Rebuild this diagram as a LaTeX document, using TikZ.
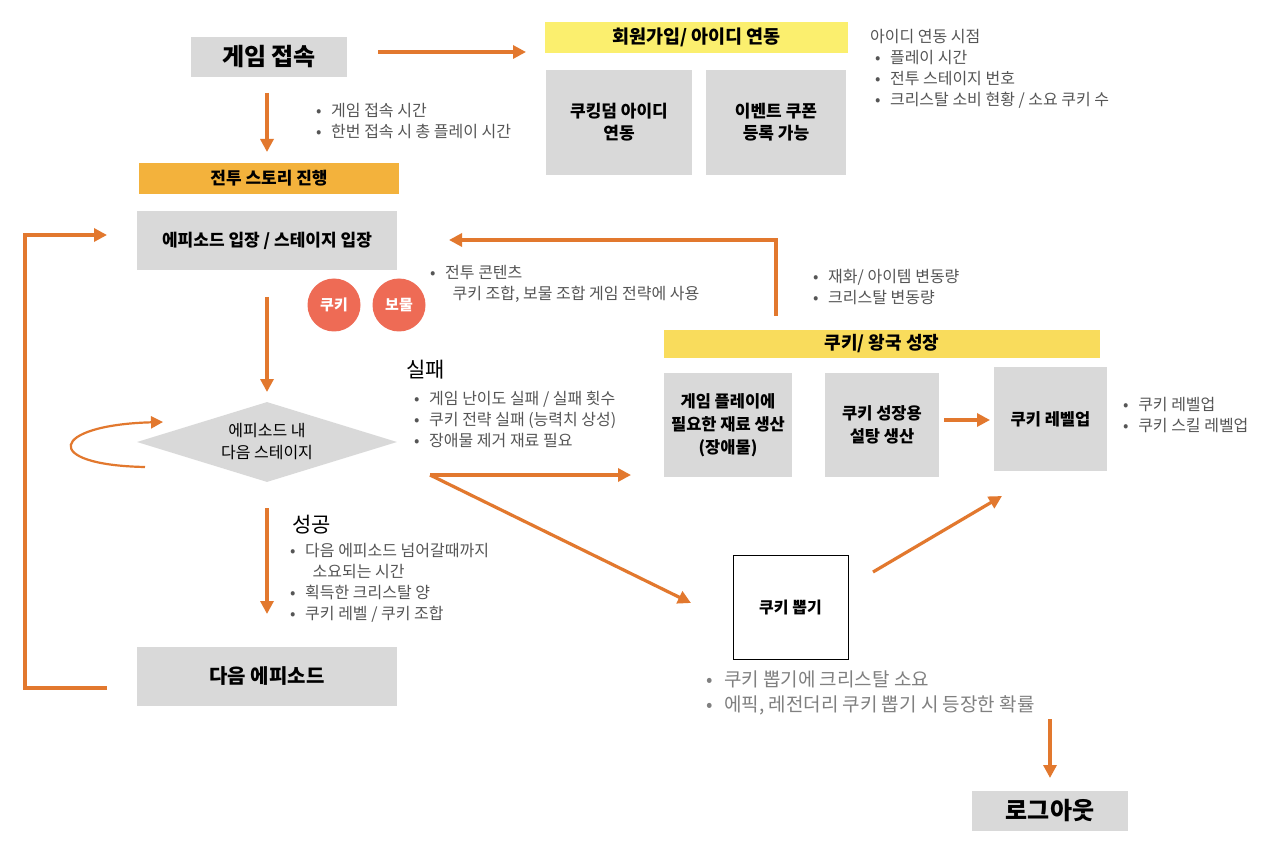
\documentclass[tikz,border=0pt]{standalone}
\usepackage{fontspec}
\setmainfont{Noto Sans CJK KR}
\usetikzlibrary{arrows.meta,shapes.geometric}
\definecolor{gbox}{HTML}{D9D9D9}
\definecolor{org}{HTML}{E2782E}
\definecolor{ylw}{HTML}{FBEF6E}
\definecolor{ylw2}{HTML}{F9DC5C}
\definecolor{obox}{HTML}{F3B23C}
\definecolor{redc}{HTML}{EE6B55}
\definecolor{txt}{HTML}{555555}
\tikzset{
 gb/.style={fill=gbox,align=center,inner sep=0pt,font=\fontsize{17}{22}\selectfont\bfseries},
 arr/.style={draw=org,line width=3.2pt,-{Triangle[length=13pt,width=13pt]}},
 ln/.style={draw=org,line width=3.2pt},
 bl/.style={anchor=north west,align=left,text=txt,inner sep=0pt,font=\fontsize{16}{21}\selectfont},
}
\newcommand{\bu}{\textbullet\hspace{0.6em}}
\begin{document}
\begin{tikzpicture}[x=1pt,y=-1pt]
\fill[white] (0,0) rectangle (1280,842);
% top
\node[gb,minimum width=156,minimum height=40,font=\fontsize{24}{28}\selectfont\bfseries] (start) at (269,57) {게임 접속};
\node[fill=ylw,minimum width=303,minimum height=31,inner sep=0pt,font=\fontsize{18.5}{22}\selectfont\bfseries] (join) at (696.5,37.5) {회원가입/ 아이디 연동};
\node[gb,minimum width=146,minimum height=105] (kid) at (619,122.5) {쿠킹덤 아이디\\연동};
\node[gb,minimum width=140,minimum height=105] (cpn) at (776,122.5) {이벤트 쿠폰\\등록 가능};
\coordinate (a1) at (378,52); \coordinate (a2) at (526,52);
\draw[arr] (a1) -- (a2);
\node[bl] (idt) at (870,29) {아이디 연동 시점\\[0pt]\hspace{0.3em}\bu 플레이 시간\\\hspace{0.3em}\bu 전투 스테이지 번호\\\hspace{0.3em}\bu 크리스탈 소비 현황 / 소요 쿠키 수};
\coordinate (b1) at (267,93); \coordinate (b2) at (267,152);
\draw[arr] (b1) -- (b2);
\node[bl] (t1) at (316,103) {\bu 게임 접속 시간\\\bu 한번 접속 시 총 플레이 시간};
% battle
\node[fill=obox,minimum width=260,minimum height=31,inner sep=0pt,font=\fontsize{17}{20}\selectfont\bfseries] (battle) at (269,178.5) {전투 스토리 진행};
\node[gb,minimum width=260,minimum height=59] (ep) at (267,240.5) {에피소드 입장 / 스테이지 입장};
\node[circle,fill=redc,minimum size=53,inner sep=0pt,text=white,font=\fontsize{15}{18}\selectfont\bfseries] (ck) at (334,305) {쿠키};
\node[circle,fill=redc,minimum size=53,inner sep=0pt,text=white,font=\fontsize{15}{18}\selectfont\bfseries] (tr) at (399,305) {보물};
\node[bl] (t2) at (430,265) {\bu 전투 콘텐츠\\\hspace{1.4em}쿠키 조합, 보물 조합 게임 전략에 사용};
\coordinate (c1) at (267,297); \coordinate (c2) at (267,392);
\draw[arr] (c1) -- (c2);
\node[diamond,fill=gbox,minimum width=260,minimum height=80,inner sep=0pt,aspect=3.25] (dm) at (267,442) {};
\node[align=center,font=\fontsize{16}{22}\selectfont] (dmt) at (267,442) {에피소드 내\\다음 스테이지};
\coordinate (l1) at (145,467); \coordinate (l2) at (163,422);
\draw[ln,-{Triangle[length=12pt,width=12pt]},line width=2.2pt] (l1) .. controls (40,465) and (50,425) .. (l2);
\node[anchor=west,inner sep=0pt,font=\fontsize{21}{24}\selectfont] (fail) at (406,370) {실패};
\node[bl] (t3) at (414,391) {\bu 게임 난이도 실패 / 실패 횟수\\\bu 쿠키 전략 실패 (능력치 상성)\\\bu 장애물 제거 재료 필요};
\coordinate (d0) at (430,475); \coordinate (d1) at (631,475); \coordinate (d2) at (691,603);
\draw[arr] (d0) -- (d1);
\draw[arr] (d0) -- (d2);
\coordinate (e1) at (267,508); \coordinate (e2) at (267,614);
\draw[arr] (e1) -- (e2);
\node[anchor=west,inner sep=0pt,font=\fontsize{21}{24}\selectfont] (succ) at (292,525) {성공};
\node[bl] (t4) at (290,543) {\bu 다음 에피소드 넘어갈때까지\\\hspace{1.4em}소요되는 시간\\\bu 획득한 크리스탈 양\\\bu 쿠키 레벨 / 쿠키 조합};
\node[gb,minimum width=260,minimum height=59,font=\fontsize{20}{24}\selectfont\bfseries] (next) at (267,676.5) {다음 에피소드};
\coordinate (f1) at (107,688); \coordinate (f2) at (25,688); \coordinate (f3) at (25,235); \coordinate (f4) at (107,235);
\draw[ln,-{Triangle[length=13pt,width=13pt]}] (f1) -- (f2) -- (f3) -- (f4);
% growth
\node[fill=ylw2,minimum width=436,minimum height=28,inner sep=0pt,font=\fontsize{18}{20}\selectfont\bfseries] (grow) at (882,344) {쿠키/ 왕국 성장};
\node[gb,minimum width=128,minimum height=104,font=\fontsize{16.5}{23}\selectfont\bfseries] (mat) at (728,425) {게임 플레이에\\필요한 재료 생산\\(장애물)};
\node[gb,minimum width=114,minimum height=104,font=\fontsize{16.5}{23}\selectfont\bfseries] (sug) at (882,425) {쿠키 성장용\\설탕 생산};
\node[gb,minimum width=113,minimum height=104,font=\fontsize{16.5}{23}\selectfont\bfseries] (lvl) at (1050.5,419) {쿠키 레벨업};
\coordinate (g1) at (944,420); \coordinate (g2) at (990,420);
\draw[arr] (g1) -- (g2);
\node[bl] (t5) at (1123,397) {\bu 쿠키 레벨업\\\bu 쿠키 스킬 레벨업};
\coordinate (h1) at (776,316); \coordinate (h2) at (776,240); \coordinate (h3) at (449,240);
\draw[ln,-{Triangle[length=13pt,width=13pt]}] (h1) -- (h2) -- (h3);
\node[bl] (t6) at (813,269) {\bu 재화/ 아이템 변동량\\\bu 크리스탈 변동량};
\node[draw=black,line width=0.8pt,fill=white,minimum width=115,minimum height=104,inner sep=0pt,font=\fontsize{16}{20}\selectfont\bfseries] (gacha) at (790.5,607) {쿠키 뽑기};
\coordinate (i1) at (873,572); \coordinate (i2) at (1002,496);
\draw[arr] (i1) -- (i2);
\node[bl,text=gray,font=\fontsize{19}{25}\selectfont] (t7) at (706,671) {\bu 쿠키 뽑기에 크리스탈 소요\\\bu 에픽, 레전더리 쿠키 뽑기 시 등장한 확률};
\coordinate (j1) at (1050,719); \coordinate (j2) at (1050,778);
\draw[arr] (j1) -- (j2);
\node[gb,minimum width=156,minimum height=40,font=\fontsize{24}{28}\selectfont\bfseries] (out) at (1050,811) {로그아웃};
\end{tikzpicture}
\end{document}
